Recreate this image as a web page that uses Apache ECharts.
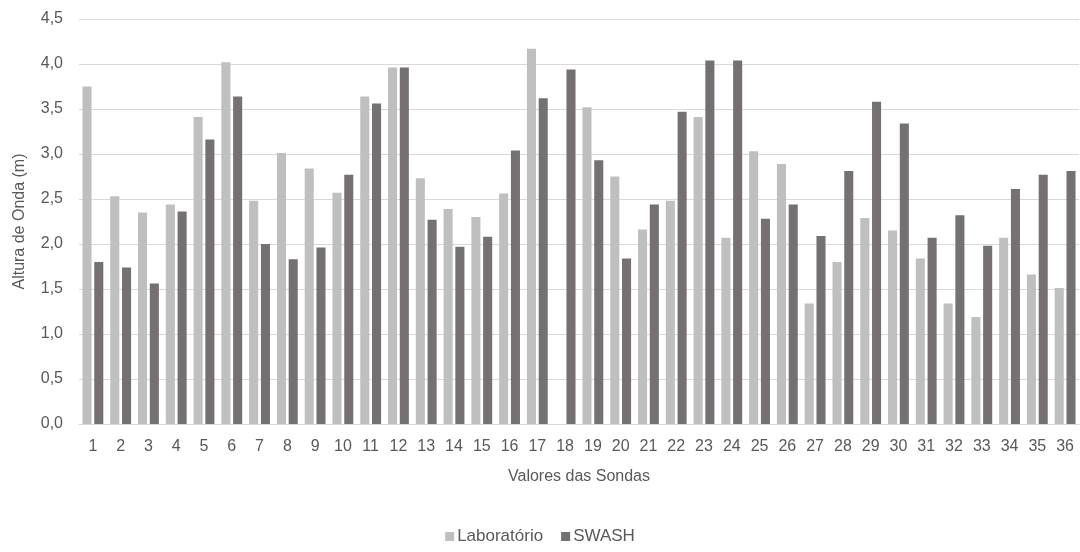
<!DOCTYPE html>
<html>
<head>
<meta charset="utf-8">
<script src="https://cdn.jsdelivr.net/npm/echarts@6/dist/echarts.min.js"></script>
<style>html,body{margin:0;padding:0;background:#fff;}#c{width:1080px;height:552px;}</style>
</head>
<body>
<div id="c"></div>
<script>
const categories = ['1','2','3','4','5','6','7','8','9','10','11','12','13','14','15','16','17','18','19','20','21','22','23','24','25','26','27','28','29','30','31','32','33','34','35','36'];
const laboratorio = [3.75,2.53,2.35,2.44,3.41,4.02,2.48,3.01,2.84,2.57,3.64,3.96,2.73,2.39,2.30,2.56,4.17,0,3.52,2.75,2.16,2.48,3.41,2.07,3.03,2.89,1.34,1.80,2.29,2.15,1.84,1.34,1.19,2.07,1.66,1.51];
const swash = [1.80,1.74,1.56,2.36,3.16,3.64,2.00,1.83,1.96,2.77,3.56,3.96,2.27,1.97,2.08,3.04,3.62,3.94,2.93,1.84,2.44,3.47,4.04,4.04,2.28,2.44,2.09,2.81,3.58,3.34,2.07,2.32,1.98,2.61,2.77,2.81];
const yTicks = ['0,0','0,5','1,0','1,5','2,0','2,5','3,0','3,5','4,0','4,5'];

const chart = echarts.init(document.getElementById('c'));
const txt = '#595959';
const font = 'Liberation Sans, Arial, sans-serif';
chart.setOption({
  animation: false,
  textStyle: {fontFamily: font},
  grid: {left: 79, right: 1, top: 19, bottom: 128, containLabel: false},
  legend: {
    bottom: 2, left: 'center',
    itemWidth: 9, itemHeight: 9, itemGap: 18,
    icon: 'rect',
    textStyle: {color: txt, fontSize: 17, fontFamily: font, padding: [0,0,0,-2]},
    data: ['Laboratório','SWASH']
  },
  xAxis: {
    type: 'category', data: categories,
    name: 'Valores das Sondas', nameLocation: 'middle', nameGap: 45,
    nameTextStyle: {color: txt, fontSize: 16, fontFamily: font},
    axisLine: {lineStyle: {color: '#d9d9d9', width: 1}},
    axisTick: {show: false},
    axisLabel: {color: txt, fontSize: 16, fontFamily: font, interval: 0, margin: 15}
  },
  yAxis: {
    type: 'value', min: 0, max: 4.5, interval: 0.5,
    name: 'Altura de Onda (m)', nameLocation: 'middle', nameGap: 51, nameRotate: 90,
    nameTextStyle: {color: txt, fontSize: 16, fontFamily: font},
    axisLine: {show: false}, axisTick: {show: false},
    axisLabel: {color: txt, fontSize: 16, fontFamily: font, margin: 16,
      formatter: function(v){ return yTicks[Math.round(v/0.5)]; }},
    splitLine: {lineStyle: {color: '#d9d9d9', width: 1}}
  },
  series: [
    {name: 'Laboratório', type: 'bar', data: laboratorio, itemStyle: {color: '#bfbfbf'}, barGap: '30%', barCategoryGap: '25%'},
    {name: 'SWASH', type: 'bar', data: swash, itemStyle: {color: '#767171'}, barGap: '30%', barCategoryGap: '25%'}
  ]
});
</script>
</body>
</html>
